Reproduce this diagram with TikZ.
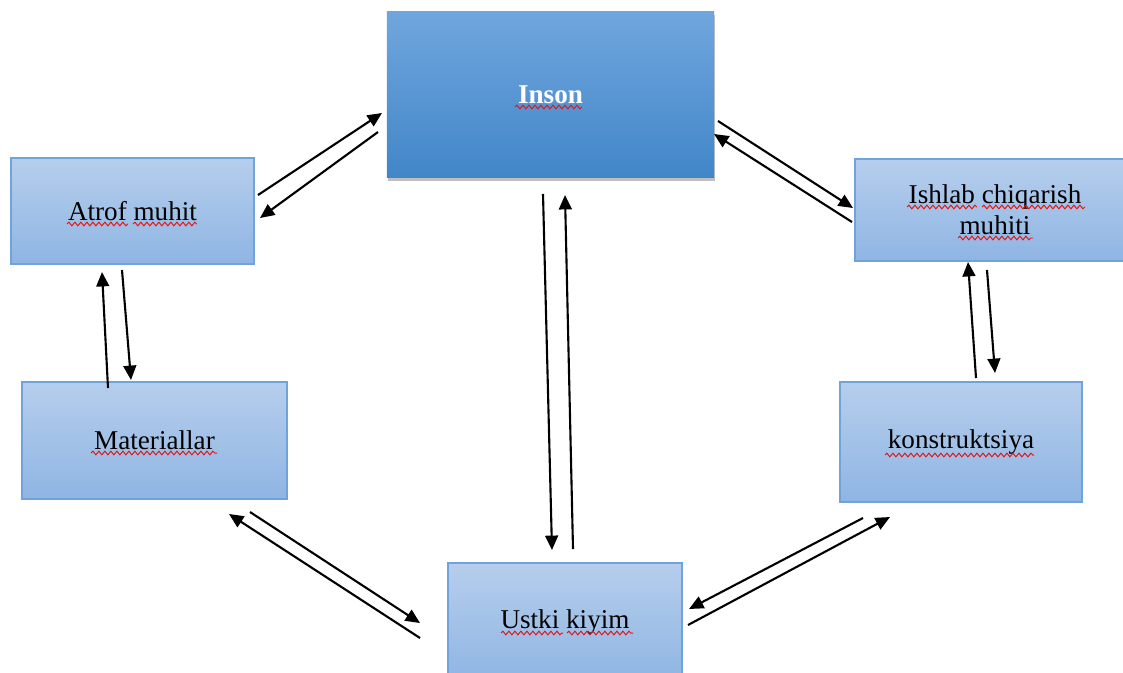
\documentclass[tikz,border=0pt]{standalone}
\usepackage{fontspec}
\setmainfont{Liberation Serif}
\usetikzlibrary{arrows.meta,shadows,decorations.pathmorphing}
\definecolor{boxtop}{RGB}{182,206,236}
\definecolor{boxbot}{RGB}{143,181,227}
\definecolor{boxline}{RGB}{112,162,220}
\definecolor{maintop}{RGB}{112,166,222}
\definecolor{mainbot}{RGB}{66,134,200}
\definecolor{spellred}{RGB}{230,20,20}
\tikzset{
  block/.style={draw=boxline, line width=0.8pt, top color=boxtop, bottom color=boxbot,
    align=center, outer sep=0pt, inner sep=2pt, font=\fontsize{19.3}{22}\selectfont},
  mainblock/.style={block, draw=none, top color=maintop, bottom color=mainbot, text=white,
    font=\fontsize{19.3}{22}\selectfont\bfseries,
    drop shadow={shadow xshift=1pt, shadow yshift=-2.5pt, fill=black, opacity=0.25}},
  link/.style={line width=1.5pt, -{Triangle[length=0.36cm,width=0.32cm]}},
  spellwave/.style={draw=spellred, line width=0.7pt, decorate,
    decoration={snake, segment length=0.15cm, amplitude=0.045cm}}
}
\begin{document}
\begin{tikzpicture}[x=0.025cm,y=-0.025cm]
\useasboundingbox (0,0) rectangle (1123,672);
\clip (0,0) rectangle (1123,672);
\node[mainblock, minimum width=8.175cm, minimum height=4.125cm] (inson) at (550.5,94.5) {Inson}; % top box
\node[block, minimum width=6.075cm, minimum height=2.65cm] (atrof) at (132.5,211) {Atrof muhit};
\node[block, minimum width=6.625cm, minimum height=2.925cm] (mater) at (154.5,440.5) {Materiallar};
\node[block, minimum width=7cm, minimum height=2.55cm] (ishlab) at (995,210) {Ishlab chiqarish\\muhiti};
\node[block, minimum width=6.05cm, minimum height=3cm] (konst) at (961,442) {konstruktsiya};
\node[block, minimum width=5.85cm, minimum height=2.95cm] (ustki) at (565,622) {Ustki kiyim};
% red wavy lines under the words
\foreach \xa/\xb/\yy in {515/582/107, 67/128/224, 133/197/224, 91/217/453, 907/977/207,
  982/1085/207, 958/1033/238, 885/1034/455, 501/563/633, 567/633/633}
  \draw[spellwave] (\xa,\yy) -- (\xb,\yy);
% arrow ends
\coordinate (atrofA) at (258,195); \coordinate (insonA) at (382,113);
\coordinate (insonB) at (378,132); \coordinate (atrofB) at (260,218);
\coordinate (insonC) at (718,121); \coordinate (ishlabC) at (853,208);
\coordinate (ishlabD) at (852,222); \coordinate (insonD) at (714,134);
\coordinate (insonE) at (543,194); \coordinate (ustkiE) at (552,550);
\coordinate (ustkiF) at (573,549); \coordinate (insonF) at (565,195);
\coordinate (materG) at (108,388); \coordinate (atrofG) at (102,272);
\coordinate (atrofH) at (122,270); \coordinate (materH) at (131,380);
\coordinate (konstI) at (976,378); \coordinate (ishlabI) at (968,262);
\coordinate (ishlabJ) at (987,270); \coordinate (konstJ) at (995,373);
\coordinate (ustkiK) at (420,638); \coordinate (materK) at (229,514);
\coordinate (materL) at (250,512); \coordinate (ustkiL) at (420,623);
\coordinate (konstM) at (863,518); \coordinate (ustkiM) at (689,609);
\coordinate (ustkiN) at (688,625); \coordinate (konstN) at (890,517);
% arrows
\draw[link] (atrofA) -- (insonA);
\draw[link] (insonB) -- (atrofB);
\draw[link] (insonC) -- (ishlabC);
\draw[link] (ishlabD) -- (insonD);
\draw[link] (insonE) -- (ustkiE);
\draw[link] (ustkiF) -- (insonF);
\draw[link] (materG) -- (atrofG);
\draw[link] (atrofH) -- (materH);
\draw[link] (konstI) -- (ishlabI);
\draw[link] (ishlabJ) -- (konstJ);
\draw[link] (ustkiK) -- (materK);
\draw[link] (materL) -- (ustkiL);
\draw[link] (konstM) -- (ustkiM);
\draw[link] (ustkiN) -- (konstN);
\end{tikzpicture}
\end{document}
